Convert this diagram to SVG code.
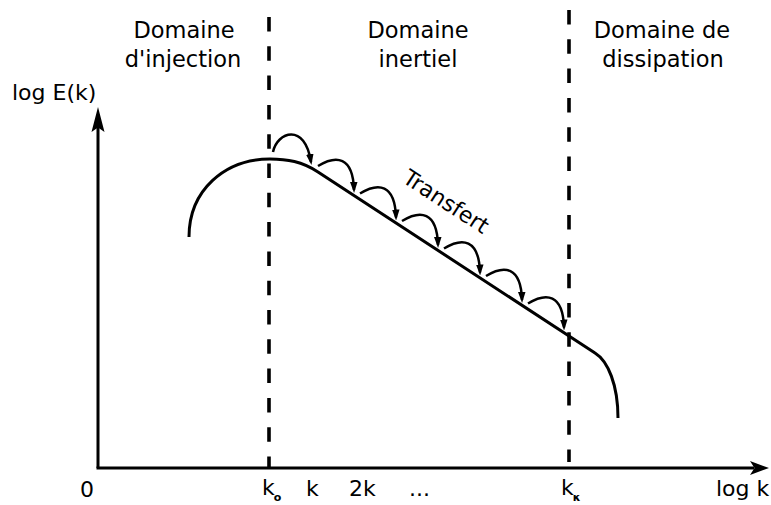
<svg xmlns="http://www.w3.org/2000/svg" width="771" height="505" viewBox="0 0 771 505">
<style>
  text { font-family: "DejaVu Sans", "Liberation Sans", sans-serif; font-size: 22px; fill: #000; }
  .hd { font-size: 22.5px; }
  .mid { text-anchor: middle; }
  .sub { font-size: 11px; font-weight: bold; }
  .ax { stroke: #000; stroke-width: 3; fill: none; }
  .dash { stroke: #000; stroke-width: 3.6; fill: none; stroke-dasharray: 14.5 14.8; }
  .curve { stroke: #000; stroke-width: 3; fill: none; stroke-linecap: butt; }
  .hop { stroke: #000; stroke-width: 2.5; fill: none; marker-end: url(#ah); }
</style>
<defs>
  <marker id="ah" markerUnits="userSpaceOnUse" markerWidth="11" markerHeight="8" refX="8" refY="3.75" orient="auto">
    <path d="M0,0 L11,3.75 L0,7.5 z" fill="#000"/>
  </marker>
</defs>
<rect width="771" height="505" fill="#fff"/>

<g id="axes">
  <path class="ax" d="M98,468 V126"/>
  <path d="M98,107 L104.5,132 L98,127.5 L91.5,132 z" fill="#000"/>
  <path class="ax" d="M96.5,468 H754"/>
  <path d="M769,468 L750,475 L754.5,468 L750,461 z" fill="#000"/>
</g>

<g id="boundaries">
  <path class="dash" d="M269,17 V468"/>
  <path class="dash" d="M569,10 V462"/>
</g>

<g id="spectrum">
  <path class="curve" d="M189,237 C189,190 225,159 270,159 C287,159 302,161.5 318,172 L595,353 C608,361 618,385 618,418"/>
</g>

<g id="transfers">
  <path class="hop" d="M273,152 c4,-20 32,-30 38,10"/>
  <path class="hop" d="M318,166 c18,-11 35,-10 36,24"/>
  <path class="hop" d="M360,193.5 c18,-11 35,-10 36,24"/>
  <path class="hop" d="M402,221 c18,-11 35,-10 36,24"/>
  <path class="hop" d="M444,248.5 c18,-11 35,-10 36,24"/>
  <path class="hop" d="M486,276 c18,-11 35,-10 36,24"/>
  <path class="hop" d="M528,303.5 c18,-11 35,-10 36,24"/>
</g>

<g id="labels">
  <text class="mid hd" x="184" y="38">Domaine</text>
  <text class="mid hd" x="183" y="67">d'injection</text>
  <text class="mid hd" x="418" y="38">Domaine</text>
  <text class="mid hd" x="418" y="67">inertiel</text>
  <text class="mid hd" x="662" y="38">Domaine de</text>
  <text class="mid hd" x="663" y="67">dissipation</text>
  <text x="12" y="100">log E(k)</text>
  <text x="80" y="497">0</text>
  <text x="716" y="496">log k</text>
  <text class="mid" transform="translate(442,208) rotate(33)">Transfert</text>
  <text x="262" y="495">k<tspan class="sub" dx="-1" dy="6">o</tspan></text>
  <text x="306" y="496">k</text>
  <text x="349" y="496">2k</text>
  <text x="409" y="496">...</text>
  <text x="561" y="495">k<tspan class="sub" dx="-1" dy="6">κ</tspan></text>
</g>
</svg>
